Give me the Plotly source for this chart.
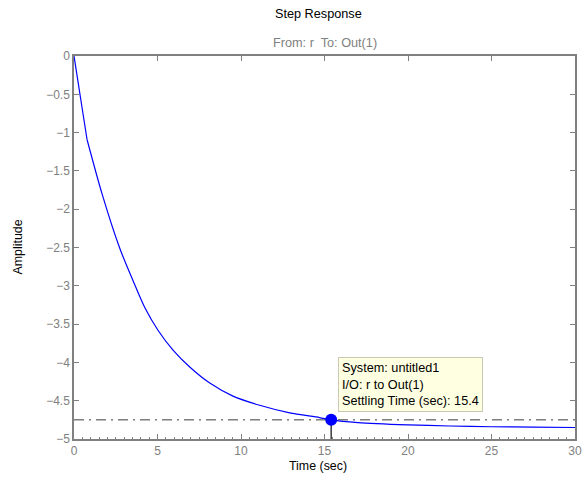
import plotly.graph_objects as go

# Step response
time_s = [0, 0.78, 1.68, 2.74, 3.53, 4.23, 5.03, 5.93, 6.93, 8.13, 9.52,
          11.12, 12.92, 14.7, 15.4, 17, 20, 22.5, 25, 27.5, 30]
amplitude = [0, -1.09, -1.80, -2.51, -2.93, -3.28, -3.58, -3.84, -4.06, -4.27, -4.44,
             -4.56, -4.66, -4.72, -4.75, -4.785, -4.815, -4.83, -4.84, -4.845, -4.85]

settle_time = [15.4]
settle_level = [-4.75]
settle_band_x = [0, 30]
x_range = [0, 30]
y_range = [-5, 0]
x_ticks = [0, 5, 10, 15, 20, 25, 30]
y_ticks = [0, -0.5, -1, -1.5, -2, -2.5, -3, -3.5, -4, -4.5, -5]

FONT = "Liberation Sans, Arial, sans-serif"
AX = "#808080"
FS = 12.7
L, R, T, B = 74, 10, 56, 45
W, H = 585, 484
PW, PH = W - L - R, H - T - B

fig = go.Figure()
fig.add_trace(go.Scatter(x=settle_band_x, y=settle_level * 2, mode="lines",
                         line=dict(color="#3c3c3c", width=1, dash="10px,5px,2px,5px"),
                         hoverinfo="skip", showlegend=False))
# first (coarse) sample segment is straight, the rest is smooth
fig.add_trace(go.Scatter(x=time_s[:2], y=amplitude[:2], mode="lines",
                         line=dict(color="#0000ff", width=1.2), showlegend=False))
fig.add_trace(go.Scatter(x=time_s[1:], y=amplitude[1:], mode="lines",
                         line=dict(color="#0000ff", width=1.2, shape="spline", smoothing=0.8),
                         showlegend=False))
fig.add_trace(go.Scatter(x=settle_time * 2, y=[settle_level[0], y_range[0]], mode="lines",
                         line=dict(color="#3c3c3c", width=1.5),
                         hoverinfo="skip", showlegend=False))
fig.add_trace(go.Scatter(x=settle_time, y=settle_level, mode="markers",
                         marker=dict(color="#0000ff", size=12),
                         showlegend=False))
# dummy trace on top axis for mirrored major ticks
fig.add_trace(go.Scatter(x=x_range, y=y_range, mode="none", xaxis="x2",
                         hoverinfo="skip", showlegend=False))

fig.add_annotation(x=15.8, y=-3.93, xref="x", yref="y", xanchor="left", yanchor="top",
                   text="System: untitled1<br>I/O: r to Out(1)<br>Settling Time (sec): 15.4",
                   showarrow=False, align="left",
                   font=dict(family=FONT, size=FS, color="#000000"),
                   bgcolor="#ffffe1", bordercolor="#c8c8b4", borderwidth=1, borderpad=3)
fig.add_annotation(x=0.5, y=1 + 13 / PH, xref="paper", yref="paper", yanchor="middle",
                   text="From: r  To: Out(1)", showarrow=False,
                   font=dict(family=FONT, size=FS, color="#808080"))
fig.add_annotation(x=(318 - L) / PW, y=1 + 42 / PH, xref="paper", yref="paper", yanchor="middle",
                   text="Step Response", showarrow=False,
                   font=dict(family=FONT, size=FS, color="#000000"))
fig.add_annotation(x=(318 - L) / PW, y=-(466 - (T + PH)) / PH, xref="paper", yref="paper",
                   yanchor="middle", text="Time (sec)", showarrow=False,
                   font=dict(family=FONT, size=12.4, color="#000000"))
fig.add_annotation(x=(17 - L) / PW, y=0.5, xref="paper", yref="paper", xanchor="center",
                   yanchor="middle", text="Amplitude", textangle=-90, showarrow=False,
                   font=dict(family=FONT, size=12.4, color="#000000"))

tickfont = dict(family=FONT, size=12, color="#808080")
fig.update_layout(
    template="none",
    width=W, height=H,
    margin=dict(l=L, r=R, t=T, b=B, autoexpand=False),
    paper_bgcolor="white", plot_bgcolor="white",
    font=dict(family=FONT, size=12, color="#808080"),
    hovermode=False,
    xaxis=dict(range=x_range, tickvals=x_ticks, ticks="inside", ticklen=5, tickcolor=AX,
               tickwidth=1, tickfont=tickfont, automargin=False,
               showline=True, linecolor=AX, linewidth=1.5, mirror=True,
               showgrid=False, zeroline=False,
               minor=dict(dtick=0.5, ticks="inside", ticklen=2, tickcolor=AX, showgrid=False)),
    xaxis2=dict(range=x_range, tickvals=x_ticks, ticks="inside", ticklen=5, tickcolor=AX,
                tickwidth=1, overlaying="x", side="top", showticklabels=False, showgrid=False,
                zeroline=False, showline=False, automargin=False),
    yaxis=dict(range=y_range, tickvals=y_ticks, ticks="inside", ticklen=5, tickcolor=AX,
               tickwidth=1, tickfont=tickfont, automargin=False,
               showline=True, linecolor=AX, linewidth=1.5, mirror="ticks",
               showgrid=False, zeroline=False),
)

# the page body's default margin would shift and clip the figure
fig.write_html("out.html", config={"displayModeBar": False},
               post_script="document.body.style.margin='0';document.body.style.overflow='hidden';")
